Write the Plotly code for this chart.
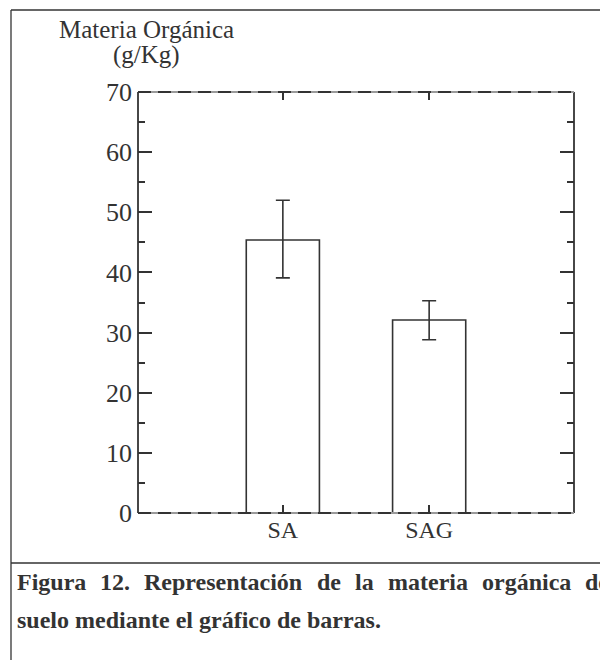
import plotly.graph_objects as go

# ---- data ----
categories = ["SA", "SAG"]
values = [45.4, 32.1]
err_plus = [6.6, 3.2]
err_minus = [6.3, 3.3]
y_ticks = [0, 10, 20, 30, 40, 50, 60, 70]
title_lines = ["Materia Orgánica", "(g/Kg)"]
caption_line1 = ["Figura", "12.", "Representación", "de", "la", "materia", "orgánica", "de"]
caption_line2 = "suelo mediante el gráfico de barras."

# ---- layout geometry (page pixels, browser body margin = 8px) ----
OFF = 8
W, H = 608 - OFF, 660 - OFF
L, R, T, B = 138 - OFF, 574 - OFF, 92 - OFF, 513 - OFF
INK = "#333333"
SERIF = "Liberation Serif"


def px(x):
    return ((x - OFF) - L) / (R - L)


def py(y):
    return (B - (y - OFF)) / (B - T)


fig = go.Figure()
fig.add_trace(go.Bar(
    x=categories, y=values, width=0.5,
    marker=dict(color="white", line=dict(color=INK, width=1.6)),
    error_y=dict(type="data", symmetric=False, array=err_plus, arrayminus=err_minus,
                 color=INK, thickness=1.6, width=7),
    showlegend=False,
))

shapes = []
# plot frame
for xv in (0, 1):
    shapes.append(dict(type="line", xref="paper", yref="paper", x0=xv, x1=xv, y0=0, y1=1,
                       line=dict(color=INK, width=1.8)))
for yv in (0, 1):
    shapes.append(dict(type="line", xref="paper", yref="paper", x0=0, x1=1, y0=yv, y1=yv,
                       line=dict(color="#9a9a9a", width=2)))
    shapes.append(dict(type="line", xref="paper", yref="paper", x0=0, x1=1, y0=yv, y1=yv,
                       line=dict(color=INK, width=2.2, dash="13px,7px")))
# outer page border + separator
shapes.append(dict(type="line", xref="paper", yref="paper", x0=px(11), x1=px(620), y0=py(10), y1=py(10),
                   line=dict(color=INK, width=1.3)))
shapes.append(dict(type="line", xref="paper", yref="paper", x0=px(11), x1=px(11), y0=py(10), y1=py(670),
                   line=dict(color=INK, width=1.3)))
shapes.append(dict(type="line", xref="paper", yref="paper", x0=px(11), x1=px(620), y0=py(563), y1=py(563),
                   line=dict(color=INK, width=1.3)))

annotations = []
annotations.append(dict(text=title_lines[0], xref="paper", yref="paper", x=px(146), y=py(30),
                        xanchor="center", yanchor="middle", showarrow=False,
                        font=dict(family=SERIF, size=25, color=INK)))
annotations.append(dict(text=title_lines[1], xref="paper", yref="paper", x=px(146), y=py(55),
                        xanchor="center", yanchor="middle", showarrow=False,
                        font=dict(family=SERIF, size=25, color=INK)))

word_x = [15, 98, 142, 315, 353, 386, 480, 583]
for w, xs in zip(caption_line1, word_x):
    annotations.append(dict(text=w, xref="paper", yref="paper", x=px(xs), y=py(582),
                            xanchor="left", yanchor="middle", showarrow=False,
                            font=dict(family=SERIF, size=24, color=INK, weight="bold")))
annotations.append(dict(text=caption_line2, xref="paper", yref="paper", x=px(15), y=py(620),
                        xanchor="left", yanchor="middle", showarrow=False,
                        font=dict(family=SERIF, size=24, color=INK, weight="bold")))

fig.update_layout(
    width=W, height=H,
    margin=dict(l=L, r=W - R, t=T, b=H - B, autoexpand=False),
    paper_bgcolor="white", plot_bgcolor="white",
    shapes=shapes, annotations=annotations,
    xaxis=dict(type="category", range=[-0.99, 1.99], showgrid=False, zeroline=False, showline=False,
               ticks="inside", ticklen=8, tickwidth=1.6, tickcolor=INK, mirror="ticks",
               tickfont=dict(family=SERIF, size=24, color=INK), fixedrange=True),
    yaxis=dict(range=[0, 70], tickvals=y_ticks, showgrid=False, zeroline=False, showline=False,
               ticks="inside", ticklen=14, tickwidth=1.6, tickcolor=INK, mirror="ticks",
               minor=dict(dtick=5, ticks="inside", ticklen=7, tickwidth=1.6, tickcolor=INK, showgrid=False),
               tickfont=dict(family=SERIF, size=26, color=INK), ticklabelstandoff=5, fixedrange=True),
    bargap=0.5,
)

fig.write_html("out.html")
